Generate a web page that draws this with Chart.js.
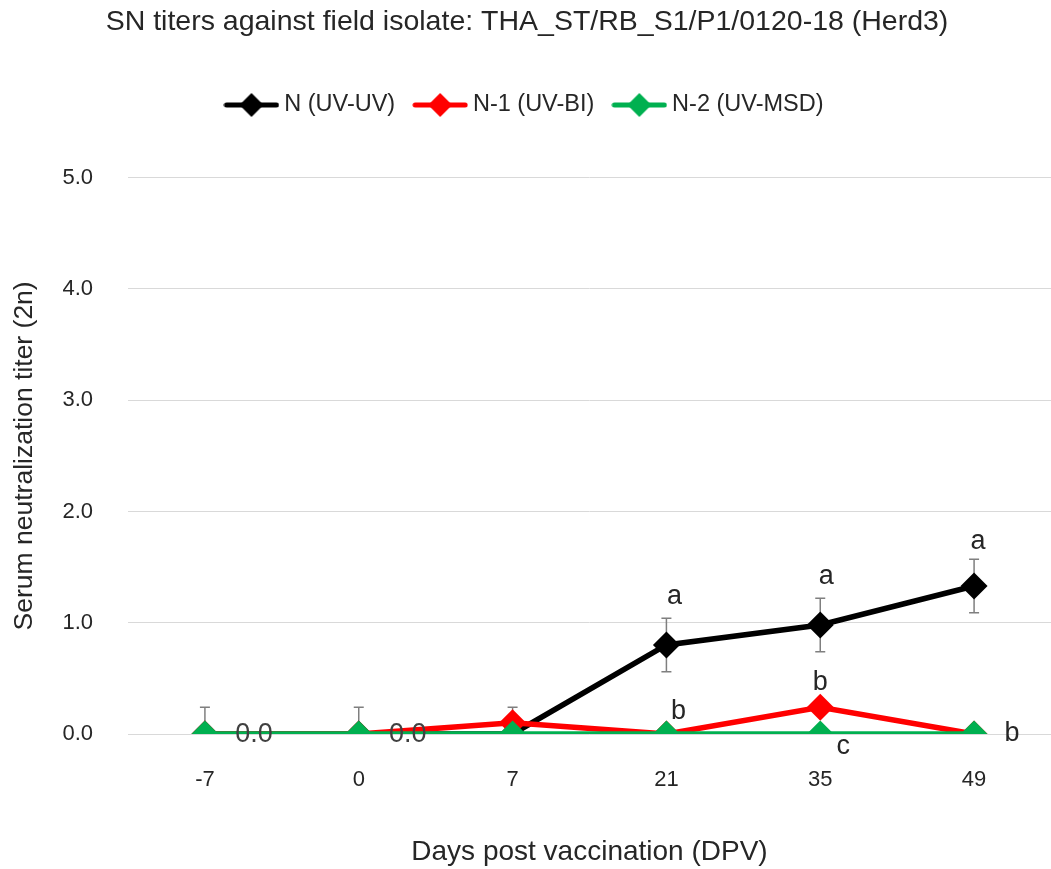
<!DOCTYPE html>
<html>
<head>
<meta charset="utf-8">
<script src="https://cdn.jsdelivr.net/npm/chart.js@4.4.1/dist/chart.umd.min.js"></script>
<style>
  html, body { margin: 0; padding: 0; background: #fff; overflow: hidden; }
  #wrap { width: 1051px; height: 869px; }
</style>
</head>
<body>
<div id="wrap"><canvas id="chart"></canvas></div>
<script>
// ---- data ----
const DAYS = ['-7', '0', '7', '21', '35', '49'];
const N_UV_UV = [0, 0, 0, 0.80, 0.98, 1.33];
const N_UV_UV_ERR = [0.24, 0.24, 0.24, 0.24, 0.24, 0.24];
const N1_UV_BI = [0, 0, 0.10, 0, 0.24, 0];
const N2_UV_MSD = [0, 0, 0, 0, 0, 0];
const SERIES_NAMES = ['N (UV-UV)', 'N-1 (UV-BI)', 'N-2 (UV-MSD)'];
const Y_TICKS = [0, 1, 2, 3, 4, 5];

// significance letters: series index, day index, text
const SIG_SERIES = [0, 0, 0, 1, 1, 2, 2];
const SIG_DAY = [3, 4, 5, 3, 4, 4, 5];
const SIG_TEXT = ['a', 'a', 'a', 'b', 'b', 'c', 'b'];
// value labels shown on the chart (series, day)
const VAL_SERIES = [2, 2];
const VAL_DAY = [0, 1];

const COLORS = ['#000000', '#ff0000', '#00b050'];
const FONT = "'Liberation Sans', Arial, sans-serif";

// legend swatch: line with a diamond in the middle
function swatch(color) {
  const c = document.createElement('canvas');
  c.width = 56; c.height = 26;
  const g = c.getContext('2d');
  g.strokeStyle = color; g.lineWidth = 5; g.lineCap = 'round';
  g.beginPath(); g.moveTo(3, 13); g.lineTo(53, 13); g.stroke();
  g.fillStyle = color;
  g.beginPath(); g.moveTo(28, 1); g.lineTo(40, 13); g.lineTo(28, 25); g.lineTo(16, 13); g.closePath(); g.fill();
  return c;
}

const seriesData = [N_UV_UV, N1_UV_BI, N2_UV_MSD];
const datasets = seriesData.map((d, i) => ({
  label: SERIES_NAMES[i],
  data: d,
  borderColor: COLORS[i],
  backgroundColor: COLORS[i],
  borderWidth: 5.5,
  pointStyle: 'rectRot',
  pointRadius: 13.5,
  pointHoverRadius: 13.5,
  pointBorderWidth: 0,
  tension: 0,
  order: 3 - i,        // green on top, black underneath
}));

// ---- error bars (N only), drawn under the markers, clipped to the plot ----
const errorBars = {
  id: 'errorBars',
  beforeDatasetsDraw(chart) {
    const { ctx, chartArea: a, scales: { x, y } } = chart;
    ctx.save();
    ctx.beginPath(); ctx.rect(a.left, a.top, a.right - a.left, a.bottom - a.top); ctx.clip();
    ctx.strokeStyle = '#7f7f7f'; ctx.lineWidth = 1.5;
    N_UV_UV.forEach((v, i) => {
      const px = x.getPixelForValue(i);
      const hi = y.getPixelForValue(v + N_UV_UV_ERR[i]);
      const lo = y.getPixelForValue(v - N_UV_UV_ERR[i]);
      ctx.beginPath();
      ctx.moveTo(px, hi); ctx.lineTo(px, lo);
      ctx.moveTo(px - 5, hi); ctx.lineTo(px + 5, hi);
      ctx.moveTo(px - 5, lo); ctx.lineTo(px + 5, lo);
      ctx.stroke();
    });
    ctx.restore();
  },
};

// ---- letters and value labels ----
const SIG_OFFSET = [[8, -48], [6, -48], [4, -44], [12, -22], [0, -25], [23, 13], [38, 0]];
const annotations = {
  id: 'annotations',
  afterDatasetsDraw(chart) {
    const { ctx, scales: { x, y } } = chart;
    ctx.save();
    ctx.textAlign = 'center'; ctx.textBaseline = 'middle';
    ctx.fillStyle = '#262626';
    ctx.font = '27px ' + FONT;
    SIG_TEXT.forEach((t, k) => {
      const d = SIG_DAY[k];
      const px = x.getPixelForValue(d) + SIG_OFFSET[k][0];
      const py = y.getPixelForValue(seriesData[SIG_SERIES[k]][d]) + SIG_OFFSET[k][1];
      ctx.fillText(t, px, py);
    });
    ctx.fillStyle = '#404040';
    VAL_DAY.forEach((d, k) => {
      const v = seriesData[VAL_SERIES[k]][d];
      ctx.fillText(v.toFixed(1), x.getPixelForValue(d) + 49, y.getPixelForValue(v) + 1);
    });
    ctx.restore();
  },
};

// more room between the legend and the plot
const legendGap = {
  id: 'legendGap',
  afterInit(chart) {
    const lg = chart.legend;
    const fit = lg.fit;
    lg.fit = function () { fit.call(this); this.height += 51; };
  },
};

new Chart(document.getElementById('chart'), {
  type: 'line',
  data: { labels: DAYS, datasets },
  plugins: [errorBars, annotations, legendGap],
  options: {
    responsive: true,
    maintainAspectRatio: false,
    animation: false,
    layout: { autoPadding: false, padding: { left: 0, right: -3, top: 0, bottom: 0 } },
    plugins: {
      title: {
        display: true,
        text: 'SN titers against field isolate: THA_ST/RB_S1/P1/0120-18 (Herd3)',
        color: '#262626',
        font: { family: FONT, size: 28.5, weight: 'normal' },
        padding: { top: 5, bottom: 30 },
      },
      legend: {
        position: 'top',
        labels: {
          usePointStyle: true,
          pointStyleWidth: 42,
          padding: 24,
          color: '#262626',
          font: { family: FONT, size: 23.5 },
          generateLabels: () => SERIES_NAMES.map((name, i) => ({
            text: name,
            pointStyle: swatch(COLORS[i]),
            fillStyle: COLORS[i],
            strokeStyle: COLORS[i],
            lineWidth: 0,
            fontColor: '#262626',
            datasetIndex: i,
            hidden: false,
          })),
        },
      },
      tooltip: { enabled: false },
    },
    scales: {
      x: {
        type: 'category',
        offset: true,
        grid: { display: false, drawTicks: false },
        border: { display: false },
        ticks: { color: '#262626', font: { family: FONT, size: 22 }, padding: 33 },
        title: {
          display: true, text: 'Days post vaccination (DPV)', color: '#262626',
          font: { family: FONT, size: 28 }, padding: { top: 0, bottom: 0 },
        },
        afterFit(s) { s.height = 135; },
      },
      y: {
        min: 0, max: 5,
        afterBuildTicks(s) { s.ticks = Y_TICKS.map((v) => ({ value: v })); },
        grid: { color: '#d9d9d9', lineWidth: 1, drawTicks: false },
        border: { display: false },
        ticks: { color: '#262626', font: { family: FONT, size: 22 }, padding: 35, callback: (v) => Number(v).toFixed(1) },
        title: {
          display: true, text: 'Serum neutralization titer (2n)', color: '#262626',
          font: { family: FONT, size: 26.5 }, padding: { top: 9, bottom: 0 },
        },
        afterFit(s) { s.width = 128; },
      },
    },
  },
});
</script>
</body>
</html>
